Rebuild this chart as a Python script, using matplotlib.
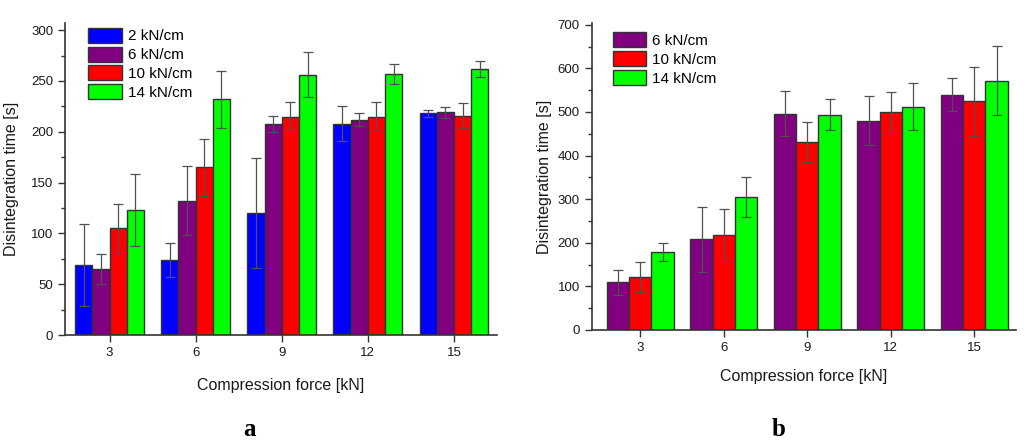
import matplotlib
matplotlib.use("Agg")
import matplotlib.pyplot as plt
from matplotlib.ticker import MultipleLocator
import numpy as np

plt.rcParams['font.family'] = ['Liberation Sans', 'DejaVu Sans']

# ---- data: panel a ----
forces = [3, 6, 9, 12, 15]
a_labels = ["2 kN/cm", "6 kN/cm", "10 kN/cm", "14 kN/cm"]
a_2 = [69, 74, 120, 208, 218]
a_2_err = [40, 17, 54, 17, 3]
a_6 = [65, 132, 208, 212, 219]
a_6_err = [15, 34, 8, 6, 5]
a_10 = [105, 165, 215, 215, 216]
a_10_err = [24, 28, 14, 14, 12]
a_14 = [123, 232, 256, 257, 262]
a_14_err = [35, 28, 22, 10, 8]

# ---- data: panel b ----
b_labels = ["6 kN/cm", "10 kN/cm", "14 kN/cm"]
b_6 = [109, 208, 496, 480, 540]
b_6_err = [28, 74, 52, 56, 37]
b_10 = [122, 218, 432, 499, 524]
b_10_err = [34, 60, 46, 47, 79]
b_14 = [179, 304, 494, 512, 572]
b_14_err = [21, 46, 35, 54, 80]

c_blue, c_purple, c_red, c_green = '#0000ff', '#800080', '#ff0000', '#00ff00'

fig = plt.figure(figsize=(10.24, 4.48), dpi=100)
axa = fig.add_axes([0.0635, 0.2522, 0.4219, 0.6964])
axb = fig.add_axes([0.5778, 0.2634, 0.4144, 0.6853])

edge = '#333333'
errkw = dict(ecolor='#505050', elinewidth=0.9, capsize=3.5, capthick=0.9)


def style(ax, ymax, major, minor, xlim):
    ax.set_xlim(*xlim)
    ax.set_ylim(0, ymax)
    ax.set_xticks(forces)
    ax.set_xticklabels([str(f) for f in forces])
    ax.yaxis.set_major_locator(MultipleLocator(major))
    ax.yaxis.set_minor_locator(MultipleLocator(minor))
    for s in ['top', 'right']:
        ax.spines[s].set_visible(False)
    for s in ['left', 'bottom']:
        ax.spines[s].set_color('#333333')
        ax.spines[s].set_linewidth(1.2)
    ax.tick_params(axis='both', which='major', direction='out', length=5,
                   width=1, color='#333333', labelsize=9.5, labelcolor='#1a1a1a')
    ax.tick_params(axis='y', which='minor', direction='out', length=3,
                   width=1, color='#333333')
    ax.tick_params(axis='x', which='minor', bottom=False)
    ax.set_xlabel("Compression force [kN]", fontsize=11.5, color='#1a1a1a')
    ax.set_ylabel("Disintegration time [s]", fontsize=11.5, color='#1a1a1a')


legkw = dict(loc='upper left', frameon=False, fontsize=11, handlelength=2.2,
             handleheight=1.15, labelspacing=0.2, handletextpad=0.4,
             borderpad=0, borderaxespad=0)

# panel a
w = 0.6
series_a = [(a_2, a_2_err, c_blue), (a_6, a_6_err, c_purple),
            (a_10, a_10_err, c_red), (a_14, a_14_err, c_green)]
x = np.array(forces, dtype=float)
for i, (vals, errs, col) in enumerate(series_a):
    off = (i - 1.5) * w
    axa.bar(x + off, vals, width=w, color=col, edgecolor=edge, linewidth=1,
            label=a_labels[i], zorder=2)
    axa.errorbar(x + off, vals, yerr=errs, fmt='none', zorder=3, **errkw)
style(axa, 307, 50, 25, (1.45, 16.5))
axa.yaxis.set_label_coords(-0.106, 0.5)
axa.xaxis.set_label_coords(0.5, -0.138)
axa.legend(bbox_to_anchor=(0.053, 0.985), **legkw)

# panel b
w = 0.8
series_b = [(b_6, b_6_err, c_purple), (b_10, b_10_err, c_red),
            (b_14, b_14_err, c_green)]
for i, (vals, errs, col) in enumerate(series_b):
    off = (i - 1) * w
    axb.bar(x + off, vals, width=w, color=col, edgecolor=edge, linewidth=1,
            label=b_labels[i], zorder=2)
    axb.errorbar(x + off, vals, yerr=errs, fmt='none', zorder=3, **errkw)
style(axb, 704, 100, 50, (1.25, 16.5))
axb.yaxis.set_label_coords(-0.094, 0.5)
axb.xaxis.set_label_coords(0.5, -0.127)
axb.legend(bbox_to_anchor=(0.0495, 0.97), **legkw)

fig.text(250 / 1024, 1 - 429 / 448, "a", fontsize=18, fontweight='bold',
         family=['Liberation Serif', 'DejaVu Serif'], ha='center', va='center')
fig.text(779 / 1024, 1 - 429 / 448, "b", fontsize=18, fontweight='bold',
         family=['Liberation Serif', 'DejaVu Serif'], ha='center', va='center')

fig.savefig("out.png", dpi=100)
